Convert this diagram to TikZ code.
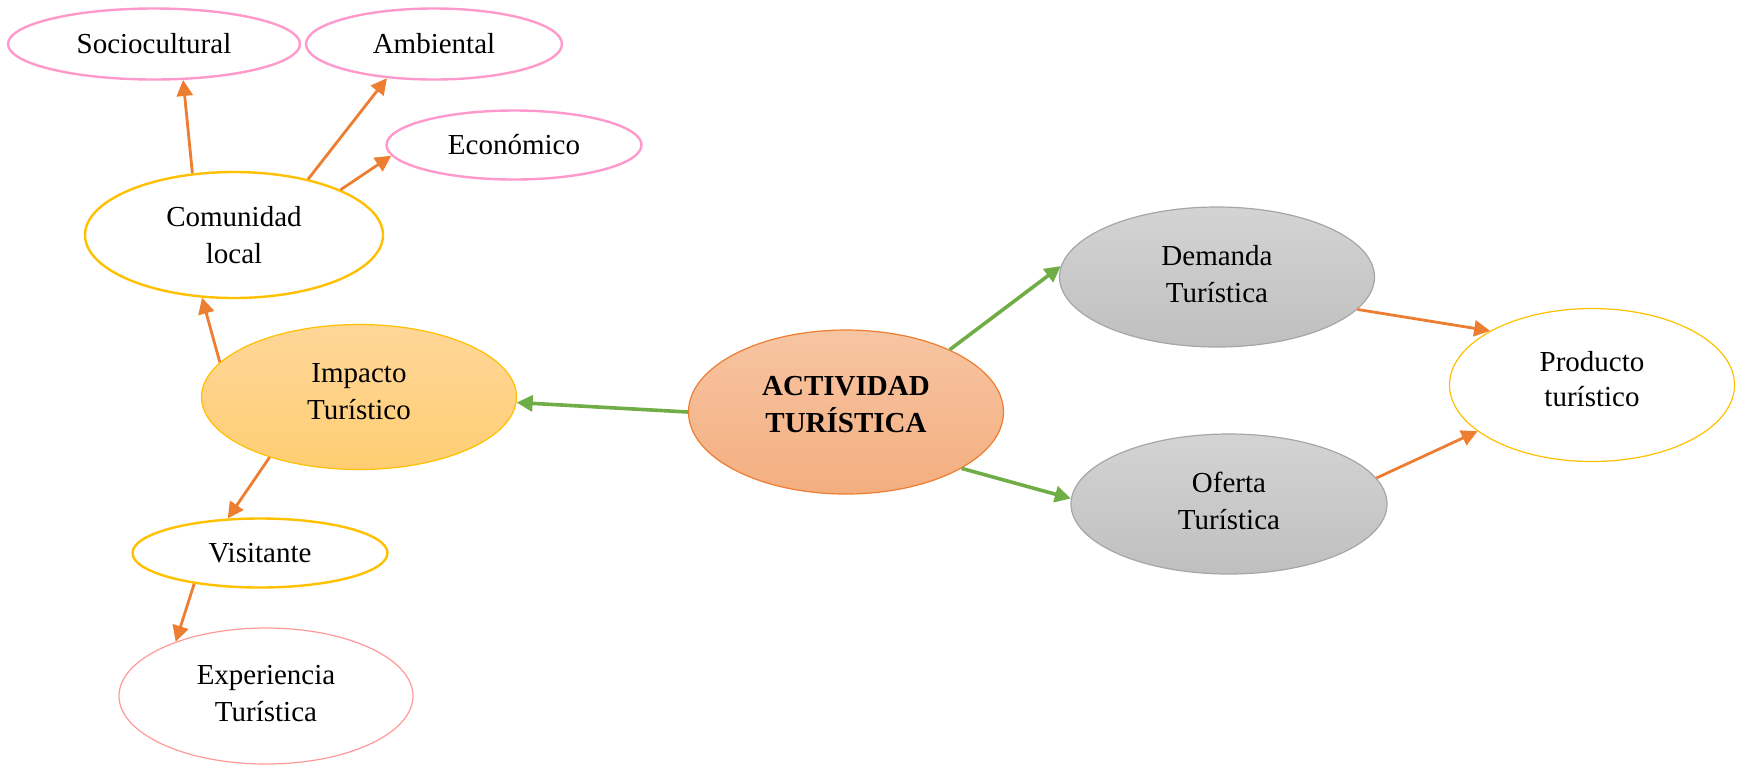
\documentclass[tikz,border=0pt]{standalone}
\usepackage{fontspec}
\setmainfont{Liberation Serif}
\usetikzlibrary{shapes.geometric,arrows.meta}
\definecolor{pinkb}{HTML}{FF99CC}
\definecolor{goldb}{HTML}{FFC000}
\definecolor{rosab}{HTML}{FF9999}
\definecolor{orangeb}{HTML}{ED7D31}
\definecolor{grayb}{HTML}{A6A6A6}
\definecolor{greenb}{HTML}{70AD47}
\begin{document}
\begin{tikzpicture}[x=0.5pt,y=-0.5pt,
  base/.style={ellipse,inner sep=0pt,align=center,font=\fontsize{14.5pt}{18.5pt}\selectfont},
  lbl/.style={align=center,inner sep=0pt,font=\fontsize{14.5pt}{18.5pt}\selectfont},
  pinknode/.style={base,draw=pinkb,line width=1.2pt,fill=white},
  goldnode/.style={base,draw=goldb,line width=1.2pt,fill=white},
  impnode/.style={base,draw=goldb,line width=0.6pt,top color=yellow!20!orange!40!white,bottom color=yellow!30!orange!55!white},
  expnode/.style={base,draw=rosab,line width=0.6pt,fill=white},
  actnode/.style={base,draw=orangeb,line width=0.6pt,top color=orangeb!45!white,bottom color=orangeb!62!white},
  graynode/.style={base,draw=grayb,line width=0.6pt,top color=black!17,bottom color=black!25},
  prodnode/.style={base,draw=goldb,line width=0.6pt,fill=white},
  garrow/.style={draw=greenb,line width=1.8pt,-{Triangle[length=8pt,width=8pt]}},
  oarrow/.style={draw=orangeb,line width=1.4pt,-{Triangle[length=8pt,width=8pt]}}
]
\useasboundingbox (0,0) rectangle (1737,768);
\node[pinknode,minimum width=146pt,minimum height=35.5pt] (soc) at (154,44) {Sociocultural};
\node[pinknode,minimum width=128pt,minimum height=35.5pt] (amb) at (434,44) {Ambiental};
\node[pinknode,minimum width=127.5pt,minimum height=34.5pt] (eco) at (514,145) {Económico};
\node[goldnode,minimum width=149pt,minimum height=63pt] (com) at (234,235) {Comunidad\\local};
\node[impnode,minimum width=157.5pt,minimum height=72.5pt,
  label={[lbl,yshift=2.8pt]center:Impacto\\Turístico}] (imp) at (359,397) {};
\node[goldnode,minimum width=127.5pt,minimum height=34.5pt] (vis) at (260,553) {Visitante};
\node[expnode,minimum width=147pt,minimum height=68pt,
  label={[lbl,yshift=1.1pt]center:Experiencia\\Turística}] (exp) at (266,696) {};
\node[actnode,minimum width=157.5pt,minimum height=82pt,
  label={[lbl,yshift=3.9pt,font=\fontsize{14.5pt}{18.5pt}\selectfont\bfseries]center:ACTIVIDAD\\TURÍSTICA}] (act) at (846,412) {};
\node[graynode,minimum width=157.5pt,minimum height=70pt,
  label={[lbl,yshift=1.7pt]center:Demanda\\Turística}] (dem) at (1217,277) {};
\node[graynode,minimum width=158pt,minimum height=70pt,
  label={[lbl,yshift=1.4pt]center:Oferta\\Turística}] (ofe) at (1229,504) {};
\node[prodnode,minimum width=142.5pt,minimum height=76.5pt,
  label={[lbl,yshift=3.2pt,font=\fontsize{14.5pt}{17.5pt}\selectfont]center:Producto\\turístico}] (pro) at (1592,385) {};

\draw[garrow] (act.180) -- (imp.-2);
\draw[garrow] (act.31) -- (dem.176);
\draw[garrow] (act.-26) -- (ofe.178);
\draw[oarrow] (dem.-13) -- (pro.152);
\draw[oarrow] (ofe.10) -- (pro.202);
\draw[oarrow] (imp.166) -- (com.243);
\draw[oarrow] (imp.214) -- (vis.133);
\draw[oarrow] (vis.205) -- (exp.149);
\draw[oarrow] (com.124) -- (soc.-51);
\draw[oarrow] (com.37) -- (amb.216);
\draw[oarrow] (com.23) -- (eco.185);
\end{tikzpicture}
\end{document}
